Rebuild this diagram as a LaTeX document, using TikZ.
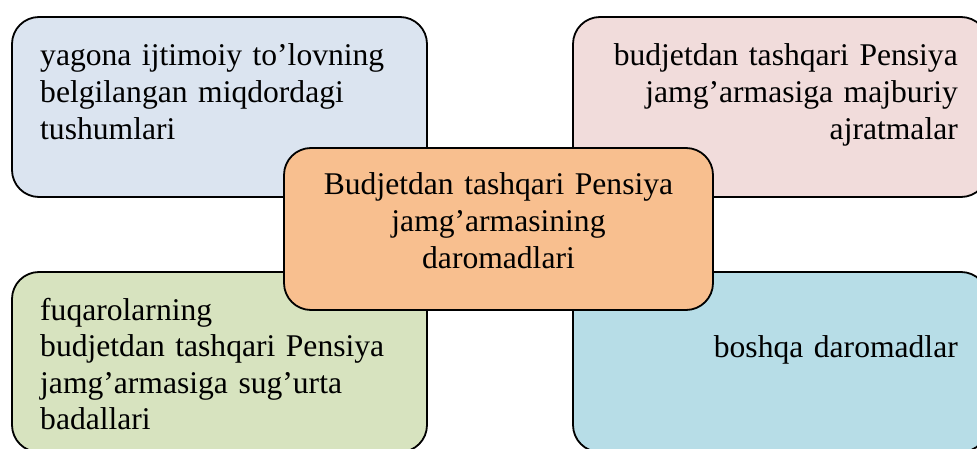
\documentclass[tikz,border=0pt]{standalone}
\usepackage{fontspec}
\setmainfont{Liberation Serif}
\definecolor{cblue}{HTML}{DBE4F0}
\definecolor{cpink}{HTML}{F1DCDB}
\definecolor{corange}{HTML}{F8BF8F}
\definecolor{cgreen}{HTML}{D7E3BF}
\definecolor{caqua}{HTML}{B7DDE7}
\tikzset{
  box/.style={draw=black, line width=1.8pt, rounded corners=27pt, inner sep=0pt},
  outer/.style={box, minimum width=415pt, minimum height=180pt},
  txt/.style={inner sep=0pt, font=\fontsize{31.6pt}{36.6pt}\selectfont}
}
\begin{document}
\begin{tikzpicture}[x=1pt,y=1pt]
\useasboundingbox (0,0) rectangle (977,-449);
\clip (0,0) rectangle (977,-449);
\node[outer, fill=cblue] (tl) at (219.5,-107) {};
\node[outer, fill=cpink] (tr) at (780.5,-107) {};
\node[outer, fill=cgreen] (bl) at (219.5,-362) {};
\node[outer, fill=caqua] (br) at (780.5,-362) {};
\node[box, fill=corange, minimum width=429pt, minimum height=162pt] (c) at (498.5,-229) {};
\node[txt, text width=400pt, align=left, anchor=base west] (tlt) at (40,-66)
  {yagona ijtimoiy to’lovning\\belgilangan miqdordagi\\tushumlari};
\node[txt, text width=400pt, align=right, anchor=base east] (trt) at (958,-66)
  {budjetdan tashqari Pensiya\\jamg’armasiga majburiy\\ajratmalar};
\node[txt, text width=420pt, align=center, anchor=base] (ct) at (498.5,-195)
  {Budjetdan tashqari Pensiya\\jamg’armasining\\daromadlari};
\node[txt, text width=400pt, align=left, anchor=base west] (blt) at (40,-320)
  {fuqarolarning\\budjetdan tashqari Pensiya\\jamg’armasiga sug’urta\\badallari};
\node[txt, text width=400pt, align=right, anchor=base east] (brt) at (958,-357)
  {boshqa daromadlar};
\end{tikzpicture}
\end{document}
